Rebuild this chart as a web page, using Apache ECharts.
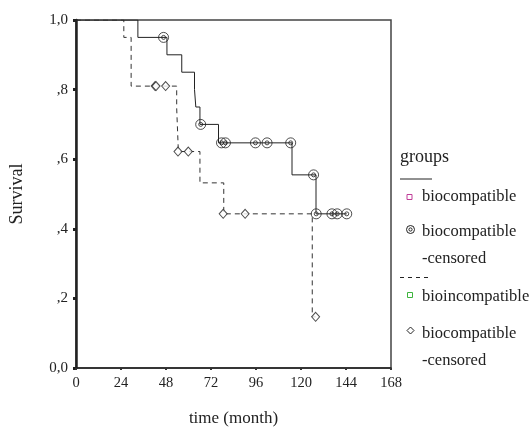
<!DOCTYPE html>
<html>
<head>
<meta charset="utf-8">
<script src="https://cdn.jsdelivr.net/npm/echarts@6/dist/echarts.min.js"></script>
<style>html,body{margin:0;padding:0;background:#fff}#c{width:532px;height:437px}</style>
</head>
<body>
<div id="c"></div>
<script>
// Kaplan-Meier step points (time in months, survival)
var solidTime = [0, 33, 48.5, 56.4, 63.2, 63.9, 66.1, 76, 115.2, 128, 144.4];
var solidSurv = [1, 0.95, 0.90, 0.85, 0.80, 0.75, 0.70, 0.647, 0.555, 0.443, 0.443];
var solidCensTime = [46.7, 66.5, 77.6, 79.7, 95.7, 101.9, 114.5, 126.7, 128.1, 136.5, 139.3, 144.4];
var solidCensSurv = [0.95, 0.70, 0.647, 0.647, 0.647, 0.647, 0.647, 0.555, 0.443, 0.443, 0.443, 0.443];

var dashTime = [0, 25.5, 29.4, 53.7, 54.6, 66.1, 78.8, 126, 127.8];
var dashSurv = [1, 0.95, 0.81, 0.746, 0.622, 0.532, 0.443, 0.147, 0.147];
var dashCensTime = [42.2, 42.7, 47.8, 54.4, 59.9, 78.5, 90.2, 127.8];
var dashCensSurv = [0.81, 0.81, 0.81, 0.622, 0.622, 0.443, 0.443, 0.147];

var xTicks = [0, 24, 48, 72, 96, 120, 144, 168];
var yTickLabels = {0: '0,0', 0.2: ',2', 0.4: ',4', 0.6: ',6', 0.8: ',8', 1: '1,0'};

var legendTitle = 'groups';
var legendItems = ['biocompatible', 'biocompatible', '-censored', 'bioincompatible', 'biocompatible', '-censored'];

function zip(a, b) { return a.map(function (v, i) { return [v, b[i]]; }); }

var FONT = '"Liberation Serif", "DejaVu Serif", serif';
var chart = echarts.init(document.getElementById('c'), null, {renderer: 'canvas'});

var legendY = [197, 232, 259, 297, 334, 361];
var graphics = [
  {type: 'text', x: 400, y: 157, style: {text: legendTitle, font: '18px ' + FONT, fill: '#222', verticalAlign: 'middle'}},
  {type: 'line', shape: {x1: 400, y1: 179, x2: 432, y2: 179}, style: {stroke: '#222', lineWidth: 1}},
  {type: 'rect', shape: {x: 407, y: 194.5, width: 5, height: 5}, style: {fill: '#fff', stroke: '#c03c98', lineWidth: 1}},
  {type: 'circle', shape: {cx: 410.5, cy: 229.5, r: 4}, style: {fill: '#fff', stroke: '#222', lineWidth: 1}},
  {type: 'circle', shape: {cx: 410.5, cy: 229.5, r: 1.6}, style: {fill: '#fff', stroke: '#222', lineWidth: 1}},
  {type: 'line', shape: {x1: 400, y1: 277.5, x2: 432, y2: 277.5}, style: {stroke: '#222', lineWidth: 1, lineDash: [4, 4]}},
  {type: 'rect', shape: {x: 407.5, y: 292.5, width: 5, height: 5}, style: {fill: '#fff', stroke: '#3cb43c', lineWidth: 1}},
  {type: 'polygon', shape: {points: [[410.5, 327], [414, 330.5], [410.5, 334], [407, 330.5]]}, style: {fill: '#fff', stroke: '#222', lineWidth: 1}}
];
legendItems.forEach(function (t, i) {
  graphics.push({type: 'text', x: 422, y: legendY[i], style: {text: t, font: '16.5px ' + FONT, fill: '#222', verticalAlign: 'middle'}});
});

chart.setOption({
  animation: false,
  backgroundColor: '#fff',
  grid: {left: 74, top: 20, right: 141, bottom: 69, show: true, borderColor: '#444', borderWidth: 1.5, backgroundColor: 'transparent'},
  xAxis: {
    type: 'value', min: 0, max: 168, interval: 24,
    name: 'time (month)', nameLocation: 'middle', nameGap: 42,
    nameTextStyle: {fontFamily: FONT, fontSize: 17, color: '#222'},
    axisLine: {show: true, onZero: false, lineStyle: {color: '#222', width: 1.5}},
    axisTick: {show: true, length: 2, lineStyle: {color: '#333', width: 2}},
    axisLabel: {fontFamily: FONT, fontSize: 14.5, color: '#222', margin: 8},
    splitLine: {show: false}
  },
  yAxis: {
    type: 'value', min: 0, max: 1, interval: 0.2,
    name: 'Survival', nameLocation: 'middle', nameGap: 50, nameRotate: 90,
    nameTextStyle: {fontFamily: FONT, fontSize: 18, color: '#222'},
    axisLine: {show: true, lineStyle: {color: '#222', width: 2.5}},
    axisTick: {show: true, length: 3, lineStyle: {color: '#222', width: 3}},
    axisLabel: {fontFamily: FONT, fontSize: 15, color: '#222', margin: 8,
      formatter: function (v) { return yTickLabels[Math.round(v * 10) / 10]; }},
    splitLine: {show: false}
  },
  graphic: graphics,
  series: [
    {type: 'line', step: 'end', data: zip(dashTime, dashSurv), showSymbol: false, symbol: 'none',
      lineStyle: {color: '#333', width: 1, type: [5, 4]}, z: 2},
    {type: 'line', step: 'end', data: zip(solidTime, solidSurv), showSymbol: false, symbol: 'none',
      lineStyle: {color: '#222', width: 1}, z: 3},
    {type: 'scatter', data: zip(solidCensTime, solidCensSurv), symbol: 'circle', symbolSize: 10,
      itemStyle: {color: 'rgba(255,255,255,0)', borderColor: '#222', borderWidth: 1}, z: 4},
    {type: 'scatter', data: zip(solidCensTime, solidCensSurv), symbol: 'circle', symbolSize: 4,
      itemStyle: {color: 'rgba(255,255,255,0)', borderColor: '#222', borderWidth: 1}, z: 4},
    {type: 'scatter', data: zip(dashCensTime, dashCensSurv), symbol: 'diamond', symbolSize: [8, 9],
      itemStyle: {color: '#fff', borderColor: '#222', borderWidth: 1}, z: 4}
  ]
});
</script>
</body>
</html>
